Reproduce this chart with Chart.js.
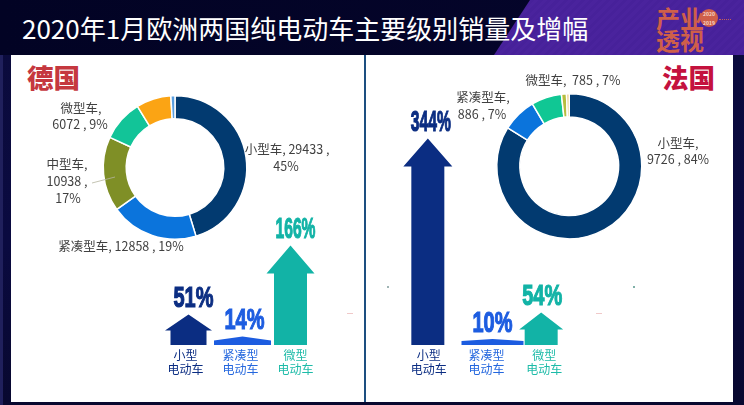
<!DOCTYPE html>
<html lang="zh">
<head>
<meta charset="utf-8">
<title>2020年1月欧洲两国纯电动车主要级别销量及增幅</title>
<script src="https://cdn.jsdelivr.net/npm/chart.js@4/dist/chart.umd.min.js"></script>
<style>
html,body{margin:0;padding:0;width:744px;height:405px;overflow:hidden;background:#07072f;font-family:"Noto Sans CJK SC","Noto Sans",sans-serif}
#stage{position:relative;width:744px;height:405px;overflow:hidden;background:linear-gradient(180deg,#0b0b3c 0%,#0a0a40 60%,#08082f 100%)}
#leftEdge{position:absolute;left:0;top:0;width:3px;height:405px;background:#20205c}
#top{position:absolute;left:0;top:0;width:744px;height:55px;background:linear-gradient(90deg,#020324,#05052c)}
#purple{position:absolute;left:0;top:0;width:744px;height:55px;background:repeating-linear-gradient(135deg,#4a239d 0 3px,#47219a 3px 6px);clip-path:polygon(530px 0,744px 0,744px 55px,494px 55px)}
#title{position:absolute;left:22px;top:8px;color:#fff;font-size:26px;line-height:40px;white-space:nowrap;font-weight:400}
.panel{position:absolute;background:#fff;top:55px;height:347px}
#pL{left:11px;width:353px}
#pR{left:366px;width:367px}
#divider{position:absolute;left:364px;top:55px;width:2px;height:347px;background:#1d4f80}
.country{position:absolute;top:58px;font-size:26.5px;line-height:38px;font-weight:900;white-space:nowrap}
canvas{position:absolute}
.logo{position:absolute;color:#cf5f4a;font-weight:700;white-space:nowrap;letter-spacing:0}
.badge{position:absolute;left:700px;top:9px;width:18px;height:18px;border-radius:50%;background:#cf5f4a;color:#f6d7c8;font-size:5px;line-height:9px;text-align:center;font-weight:700}
.dash{position:absolute;left:719px;top:19px;width:12px;height:0;border-top:1px dotted #c4605a}
.speck{position:absolute;height:1px}
</style>
</head>
<body>
<div id="stage">
  <div id="leftEdge"></div>
  <div id="top"></div>
  <div id="purple"></div>
  <div id="title">2020年1月欧洲两国纯电动车主要级别销量及增幅</div>
  <div class="logo" style="left:656px;top:5px;font-size:24px;line-height:26px">产业</div>
  <div class="logo" style="left:656px;top:27px;font-size:24px;line-height:26px">透视</div>
  <div class="badge">2020<br>2019</div>
  <div class="dash"></div>
  <div class="panel" id="pL"></div>
  <div class="panel" id="pR"></div>
  <div id="divider"></div>
  <div class="country" style="left:27px;color:#c5383f">德国</div>
  <div class="country" style="left:662px;color:#c4123e">法国</div>
  <div class="speck" style="left:347px;top:313px;width:6px;background:#f0c9c9"></div>
  <div class="speck" style="left:387px;top:286px;width:2px;height:2px;background:#9fb4b4"></div>
  <div class="speck" style="left:596px;top:313px;width:6px;background:#f0c9c9"></div>
  <div class="speck" style="left:633px;top:286px;width:2px;height:2px;background:#7fb0a8"></div>

  <canvas id="deDonut" width="340" height="200" style="left:20px;top:60px"></canvas>
  <canvas id="frDonut" width="360" height="200" style="left:370px;top:60px"></canvas>
  <canvas id="deBars" width="165" height="290" style="left:158px;top:105px"></canvas>
  <canvas id="frBars" width="173" height="290" style="left:400px;top:105px"></canvas>
</div>
<script>
// ---- data ----
const deNames  = ['小型车', '紧凑型车', '中型车', '微型车', '其他A', '其他B'];
const deValues = [29433, 12858, 10938, 6072, 5100, 600];
const dePct    = ['45%', '19%', '17%', '9%', '', ''];
const frNames  = ['小型车', '紧凑型车', '微型车', '其他A', '其他B'];
const frValues = [9726, 886, 785, 130, 70];
const frPct    = ['84%', '7%', '7%', '', ''];
const growthCats = [['小型', '电动车'], ['紧凑型', '电动车'], ['微型', '电动车']];
const deGrowth = [51, 14, 166];
const frGrowth = [344, 10, 54];

// ---- styling and layout, kept apart from the data ----
const deColors = ['#023a70', '#0b74dc', '#7f8f26', '#12c498', '#fba414', '#5a9fe0'];
const frColors = ['#023a70', '#0b74dc', '#10c794', '#b6bd3e', '#ecca7c'];
const growthColors = ['#0b2d82', '#1c5ce0', '#12b3a6'];
const tickColors = ['#0b2d82', '#2467de', '#1dbba8'];
const sansFont = '"Noto Sans CJK SC","Noto Sans",sans-serif';

// page coordinates of each label line: [slice, text builder, x, y]
const deLabelLayout = [
  [0, (n, v, p) => `${n}, ${v} ,`, 287, 149], [0, (n, v, p) => p, 286, 166],
  [1, (n, v, p) => `${n}, ${v} , ${p}`, 121, 246],
  [2, (n, v, p) => `${n},`, 67, 164], [2, (n, v, p) => `${v} ,`, 67, 181], [2, (n, v, p) => p, 68, 198],
  [3, (n, v, p) => `${n},`, 81, 108], [3, (n, v, p) => `${v} , ${p}`, 80, 124]
];
const frLabelLayout = [
  [0, (n, v, p) => `${n},`, 678, 143], [0, (n, v, p) => `${v} , ${p}`, 678, 159],
  [1, (n, v, p) => `${n},`, 483, 97], [1, (n, v, p) => `${v} , ${p}`, 482, 114],
  [2, (n, v, p) => `${n},  ${v} , ${p}`, 573, 80]
];
// arrow nudge from category centre, head width, shaft width, head height, label nudge
const deArrowLayout = [[3, 47, 36, 16, 5], [2, 57, 57, 4, 2], [-5, 48, 33, 28, 5]];
const frArrowLayout = [[-1, 49, 33, 28, 3], [6, 62, 62, 2, 0], [-3, 44, 33, 17, 1]];
const valueLabelWidth = 40;

const donutLabels = {
  id: 'donutLabels',
  afterDraw(chart, args, o) {
    const ctx = chart.ctx;
    ctx.save();
    ctx.fillStyle = '#404040';
    ctx.font = '12.5px ' + sansFont;
    ctx.textAlign = 'center';
    ctx.textBaseline = 'middle';
    if (o.leader) {
      ctx.strokeStyle = '#b5b5a0'; ctx.lineWidth = 0.8;
      ctx.beginPath();
      ctx.moveTo(o.leader[0] - o.left, o.leader[1] - o.top);
      ctx.lineTo(o.leader[2] - o.left, o.leader[3] - o.top);
      ctx.stroke();
    }
    o.layout.forEach(([i, build, x, y]) => {
      ctx.fillText(build(o.names[i], o.values[i], o.pct[i]), x - o.left, y - o.top);
    });
    ctx.restore();
  }
};

const growthArrows = {
  id: 'growthArrows',
  beforeDatasetDraw(chart, args, o) {
    const ctx = chart.ctx;
    const ds = chart.data.datasets[args.index];
    args.meta.data.forEach((bar, i) => {
      const [nudge, headW, shaftW, headH, labelNudge] = o.layout[i];
      const cx = bar.x + nudge, top = bar.y, base = bar.base;
      const neck = top + headH;
      ctx.save();
      ctx.fillStyle = ds.backgroundColor[i];
      ctx.beginPath();
      ctx.moveTo(cx, top);
      ctx.lineTo(cx + headW / 2, neck);
      ctx.lineTo(cx + shaftW / 2, neck);
      ctx.lineTo(cx + shaftW / 2, base);
      ctx.lineTo(cx - shaftW / 2, base);
      ctx.lineTo(cx - shaftW / 2, neck);
      ctx.lineTo(cx - headW / 2, neck);
      ctx.closePath();
      ctx.fill();
      // condensed heavy value label, squeezed to the common width
      const t = ds.data[i] + '%';
      ctx.font = 'bold 30px "Liberation Sans",sans-serif';
      ctx.textAlign = 'center';
      ctx.textBaseline = 'middle';
      const sx = valueLabelWidth / ctx.measureText(t).width;
      ctx.translate(cx + labelNudge, top - 15.5);
      ctx.scale(sx, 1);
      ctx.strokeStyle = ds.backgroundColor[i];
      ctx.lineWidth = 1.2;
      ctx.strokeText(t, 0, 0);
      ctx.fillText(t, 0, 0);
      ctx.restore();
    });
    return false;
  }
};

function donut(id, names, values, pct, colors, padding, left, top, layout, leader) {
  new Chart(document.getElementById(id), {
    type: 'doughnut',
    data: { labels: names, datasets: [{ data: values, backgroundColor: colors, borderColor: '#ffffff', borderWidth: 1.5 }] },
    options: {
      responsive: false, animation: false, cutout: '68%',
      layout: { padding },
      plugins: {
        legend: { display: false }, tooltip: { enabled: false },
        donutLabels: { names, values, pct, layout, left, top, leader }
      }
    },
    plugins: [donutLabels]
  });
}

function bars(id, values, layout) {
  new Chart(document.getElementById(id), {
    type: 'bar',
    data: { labels: growthCats, datasets: [{ data: values, backgroundColor: growthColors }] },
    options: {
      responsive: false, animation: false,
      scales: {
        y: { display: false, min: 0, max: 400 },
        x: {
          afterFit(s) { s.height = 50; },
          grid: { display: false, drawTicks: false, tickLength: 0 }, border: { display: false },
          ticks: {
            padding: 3, maxRotation: 0, autoSkip: false,
            color: tickColors,
            font: { family: sansFont, size: 12, weight: '400', lineHeight: 1.2 }
          }
        }
      },
      plugins: { legend: { display: false }, tooltip: { enabled: false }, growthArrows: { layout } }
    },
    plugins: [growthArrows]
  });
}

donut('deDonut', deNames, deValues, dePct, deColors, { left: 82.5, right: 112.5, top: 35, bottom: 20 }, 20, 60, deLabelLayout, [92, 183, 115, 177]);
donut('frDonut', frNames, frValues, frPct, frColors, { left: 126, right: 87.5, top: 33, bottom: 20.5 }, 370, 60, frLabelLayout, null);
bars('deBars', deGrowth, deArrowLayout);
bars('frBars', frGrowth, frArrowLayout);
</script>
</body>
</html>
